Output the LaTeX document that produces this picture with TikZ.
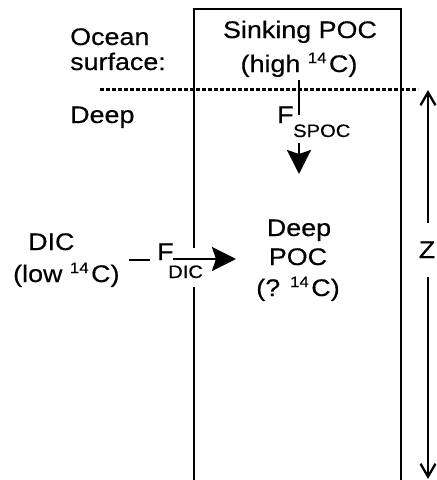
\documentclass[tikz,border=0pt]{standalone}
\usepackage{fontspec}
\setmainfont{Liberation Sans}[FakeStretch=1.12,FakeBold=0.4]
\usetikzlibrary{arrows.meta}
\newcommand{\myfourteen}{\raisebox{9pt}{\fontsize{15}{17}\selectfont 14}\hspace{2.5pt}}
\tikzset{
  lbl/.style={inner sep=0pt, font=\fontsize{24}{26}\selectfont},
  sub/.style={inner sep=0pt, font=\fontsize{18}{20}\selectfont},
  boxline/.style={line width=2.4pt},
  flux/.style={line width=2.8pt, -{Stealth[length=24pt,width=24pt,inset=4pt]}},
  tick/.style={line width=2.4pt},
  zarrow/.style={line width=2.3pt, -{Straight Barb[length=13pt,width=15pt,line width=2.3pt]}},
  surfline/.style={line width=3pt, dash pattern=on 4pt off 2pt}
}
\begin{document}
\begin{tikzpicture}[x=1pt,y=-1pt]
\useasboundingbox (0,0) rectangle (437,480);
% box
\coordinate (bl1) at (194,248);
\coordinate (bl2) at (194,287);
\coordinate (btl) at (194,9);
\coordinate (btr) at (401,9);
\coordinate (bbl) at (194,480);
\coordinate (bbr) at (401,480);
\draw[boxline] (bl1) -- (btl) -- (btr) -- (bbr);
\draw[boxline] (bl2) -- (bbl);
% surface dotted line
\coordinate (sl) at (100,89);
\coordinate (sr) at (418,89);
\draw[surfline] (sl) -- (sr);
% left labels
\node[lbl, anchor=base west] (ocean) at (70,45) {Ocean};
\node[lbl, anchor=base west] (surface) at (70,70) {surface:};
\node[lbl, anchor=base west] (deepl) at (70,123) {Deep};
% sinking POC
\node[lbl, anchor=base] (sink) at (300,38) {Sinking POC};
\node[lbl, anchor=base] (high) at (299,72) {(high \myfourteen C)};
% F_SPOC
\coordinate (t1) at (299,80);
\coordinate (t2) at (299,115);
\draw[tick] (t1) -- (t2);
\node[lbl, anchor=base west] (fs) at (277,123) {F};
\node[sub, anchor=base west] (spoc) at (293,137) {SPOC};
\coordinate (a1) at (299,143);
\coordinate (a2) at (299,174);
\draw[flux] (a1) -- (a2);
% DIC
\node[lbl, anchor=base west] (dic) at (28,250) {DIC};
\node[lbl, anchor=base west] (low) at (13,282) {(low \myfourteen C)};
\coordinate (d1) at (129,260);
\coordinate (d2) at (150,260);
\draw[tick] (d1) -- (d2);
\node[lbl, anchor=base west] (fd) at (157,260) {F};
\node[sub, anchor=base west] (dicsub) at (168,278) {DIC};
\coordinate (b1) at (173,259);
\coordinate (b2) at (236,259);
\draw[flux] (b1) -- (b2);
% deep POC
\node[lbl, anchor=base] (deep) at (299,236) {Deep};
\node[lbl, anchor=base] (poc) at (298,265) {POC};
\node[lbl, anchor=base] (q) at (298,296) {(? \myfourteen C)};
% Z
\node[lbl, anchor=base] (z) at (427,258) {Z};
\coordinate (z1) at (428,223);
\coordinate (z2) at (428,90);
\coordinate (z3) at (428,277);
\coordinate (z4) at (428,479);
\draw[zarrow] (z1) -- (z2);
\draw[zarrow] (z3) -- (z4);
\end{tikzpicture}
\end{document}
